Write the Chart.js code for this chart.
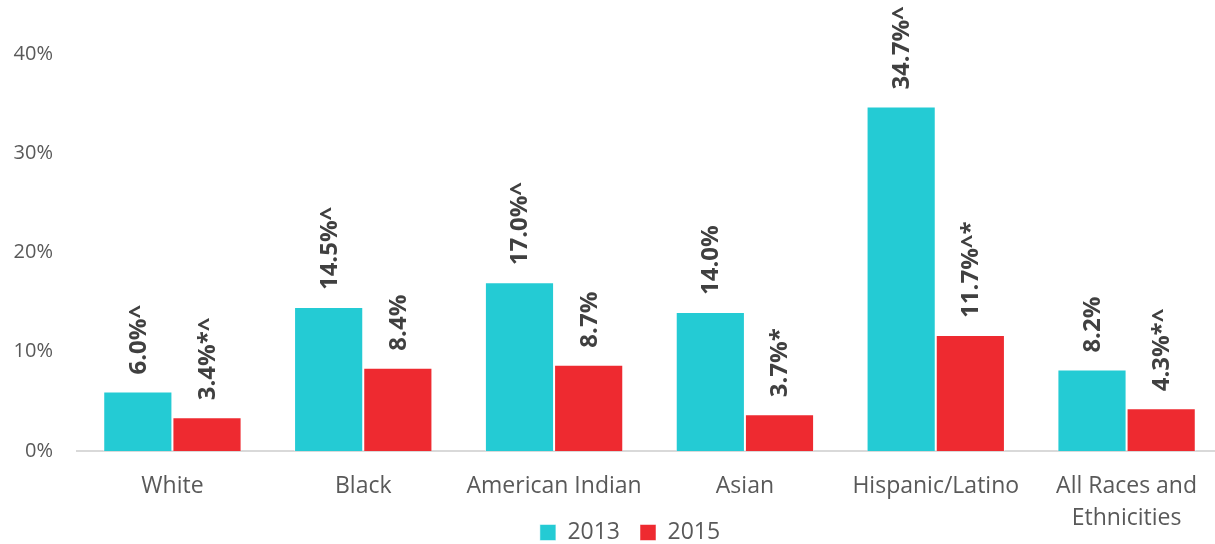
<!DOCTYPE html>
<html>
<head>
<meta charset="utf-8">
<script src="https://cdn.jsdelivr.net/npm/chart.js@4.4.1/dist/chart.umd.min.js"></script>
<style>
html,body{margin:0;padding:0;background:#fff;overflow:hidden;}
#wrap{width:1224px;height:544px;}
</style>
</head>
<body>
<div id="wrap"><canvas id="c" width="1224" height="544"></canvas></div>
<script>
const categories = ["White", "Black", "American Indian", "Asian", "Hispanic/Latino", ["All Races and", "Ethnicities"]];
const values2013 = [6.0, 14.5, 17.0, 14.0, 34.7, 8.2];
const values2015 = [3.4, 8.4, 8.7, 3.7, 11.7, 4.3];
const labels2013 = ["6.0%^", "14.5%^", "17.0%^", "14.0%", "34.7%^", "8.2%"];
const labels2015 = ["3.4%*^", "8.4%", "8.7%", "3.7%*", "11.7%^*", "4.3%*^"];
const yTicks = [0, 10, 20, 30, 40];

const FONT = "'Open Sans', Lato, sans-serif";
const LEGEND_SHIFT_Y = 10;
const LEGEND_SHIFT_X = 19;

const valueLabelPlugin = {
  id: 'valueLabels',
  afterDatasetsDraw(chart) {
    const ctx = chart.ctx;
    const sets = [labels2013, labels2015];
    chart.data.datasets.forEach((ds, di) => {
      const meta = chart.getDatasetMeta(di);
      meta.data.forEach((bar, i) => {
        ctx.save();
        ctx.translate(bar.x, bar.y - 17);
        ctx.rotate(-Math.PI / 2);
        ctx.font = "bold 24px " + FONT;
        ctx.fillStyle = "#404040";
        ctx.textAlign = "left";
        ctx.textBaseline = "middle";
        ctx.fillText(sets[di][i], 0, 1);
        ctx.restore();
      });
    });
  }
};

const layoutTweak = {
  id: 'layoutTweak',
  afterLayout(chart) {
    // let two-line category labels extend past the axis box (they sit beside the legend)
    chart.scales.x.bottom = chart.height;
    chart.legend.top += LEGEND_SHIFT_Y;
    chart.legend.bottom += LEGEND_SHIFT_Y;
    chart.legend.left += LEGEND_SHIFT_X;
    chart.legend.right += LEGEND_SHIFT_X;
  }
};

new Chart(document.getElementById('c'), {
  type: 'bar',
  data: {
    labels: categories,
    datasets: [
      { label: '2013', data: values2013, backgroundColor: '#24CBD4', borderColor: 'rgba(255,255,255,0.5)', borderWidth: 1, categoryPercentage: 0.725, barPercentage: 1.0 },
      { label: '2015', data: values2015, backgroundColor: '#EE2A30', borderColor: 'rgba(255,255,255,0.5)', borderWidth: 1, categoryPercentage: 0.725, barPercentage: 1.0 }
    ]
  },
  options: {
    responsive: false,
    animation: false,
    devicePixelRatio: 1,
    layout: { padding: { top: 54, right: 2, left: 0, bottom: 0 } },
    plugins: {
      tooltip: { enabled: false },
      legend: {
        position: 'bottom',
        labels: {
          font: { family: FONT, size: 23 },
          color: '#595959',
          boxWidth: 16,
          boxHeight: 16,
          padding: 20
        }
      }
    },
    scales: {
      x: {
        grid: { display: false, drawTicks: false },
        border: { display: true, color: '#D9D9D9', width: 2 },
        ticks: { font: { family: FONT, size: 23, lineHeight: 1.4 }, color: '#595959', padding: 19, maxRotation: 0, autoSkip: false },
        afterFit(scale) { scale.height = 40; }
      },
      y: {
        min: 0, max: 40,
        afterBuildTicks(scale) { scale.ticks = yTicks.map(v => ({ value: v })); },
        grid: { display: false, drawTicks: false },
        border: { display: false },
        ticks: { font: { family: FONT, size: 20 }, color: '#595959', padding: 24, callback: v => v + '%' },
        afterFit(scale) { scale.width = 77; }
      }
    }
  },
  plugins: [valueLabelPlugin, layoutTweak]
});
</script>
</body>
</html>
